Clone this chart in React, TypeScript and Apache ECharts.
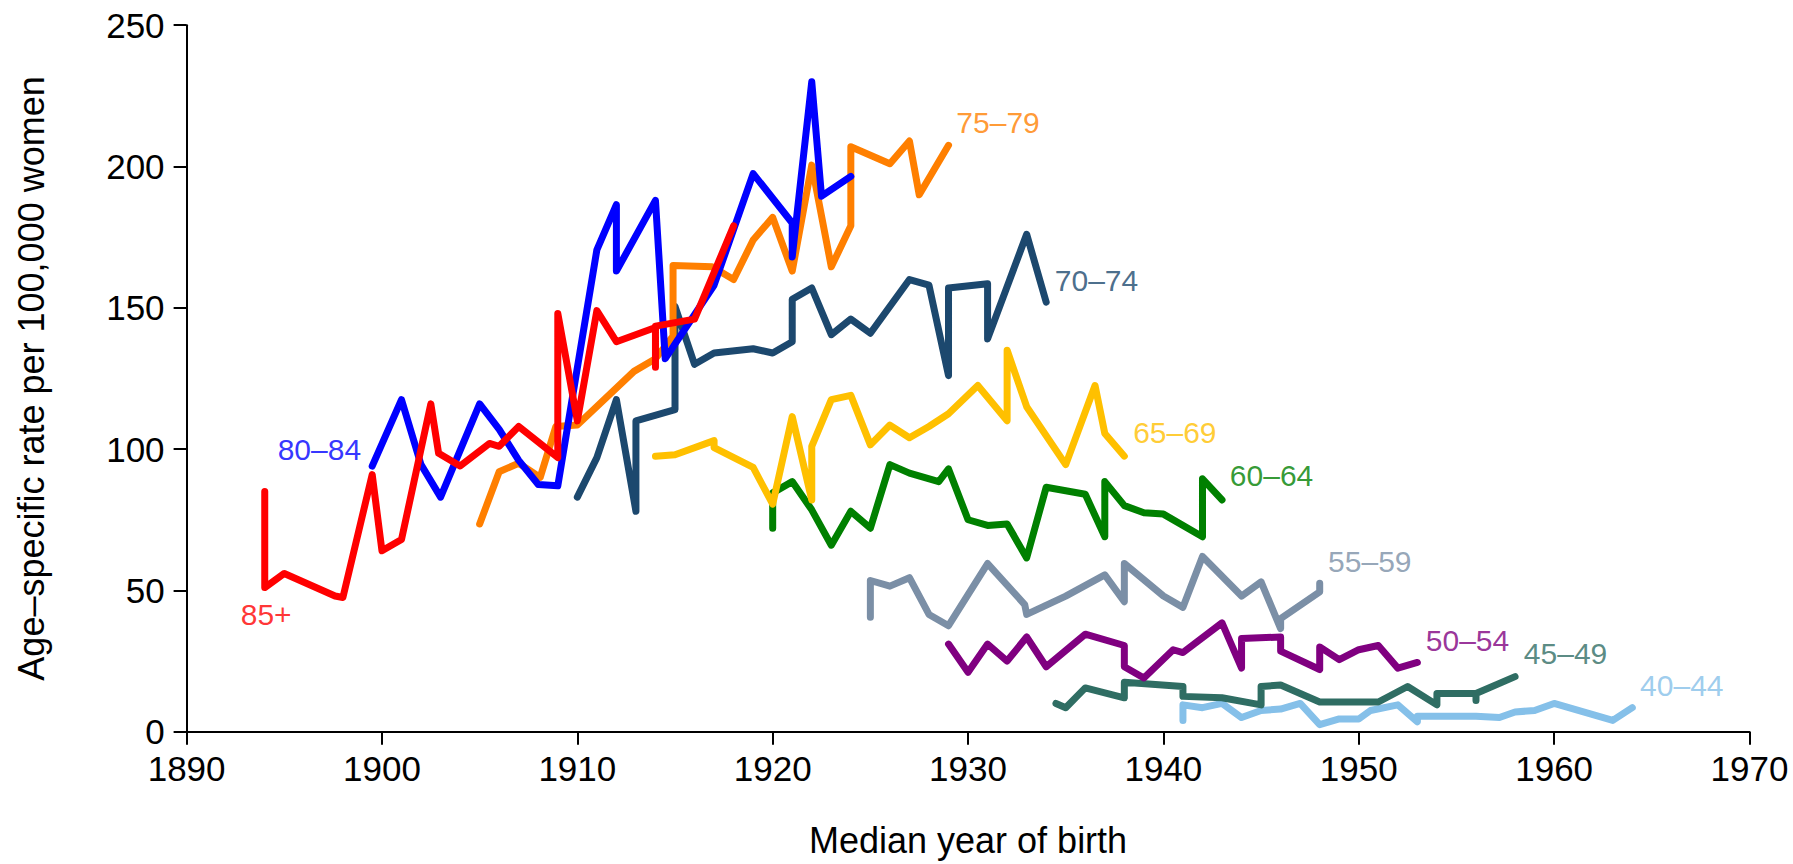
import React, { useEffect, useRef } from "react";
import * as echarts from "echarts";

// ---- Data: [median year of birth, age-specific rate per 100,000 women] ----
const age85plus: [number, number][] = [
  [1894, 85], [1894, 51], [1895, 56], [1897.6, 48], [1898, 47.5], [1899.5, 91], [1900, 64],
  [1901, 68], [1902.5, 116], [1902.9, 98.5], [1904, 94], [1905.5, 102], [1906, 101], [1907, 108],
  [1909, 97], [1909, 148], [1910, 110], [1911, 149], [1912, 138], [1914, 143], [1914, 129],
  [1914, 143.5], [1916, 146], [1918, 179],
];
const age80to84: [number, number][] = [
  [1899.5, 94], [1901, 117.5], [1902, 94.5], [1903, 83], [1905, 116], [1906, 107], [1907, 96],
  [1908, 87.5], [1909, 87], [1911, 170.5], [1912, 186.5], [1912, 163], [1914, 188], [1914.5, 132],
  [1917, 158], [1919, 197.5], [1921, 180], [1921, 168], [1922, 230], [1922.5, 189.5], [1924, 196.5],
];
const age75to79: [number, number][] = [
  [1905, 73.5], [1906, 92], [1907, 95], [1908.1, 90], [1908.9, 108], [1910, 108.5], [1912.9, 127.5],
  [1914, 132], [1914.9, 140], [1914.9, 165], [1916.9, 164.5], [1918, 160], [1919, 174], [1920, 182],
  [1921, 163], [1922, 200.5], [1923, 164.5], [1924, 179], [1924, 207], [1926, 201], [1927, 209],
  [1927.5, 190], [1929, 207.5],
];
const age70to74: [number, number][] = [
  [1910, 83], [1911, 97], [1912, 117.5], [1913, 78], [1913, 110], [1915, 114], [1915, 150.5],
  [1916, 130], [1917, 134], [1919, 135.5], [1920, 134], [1921, 138], [1921, 153], [1922, 157],
  [1923, 140.5], [1924, 146], [1925, 141], [1927, 160], [1928, 158], [1929, 126], [1929, 157],
  [1931, 158.5], [1931, 139], [1933, 176], [1934, 152],
];
const age65to69: [number, number][] = [
  [1914, 97.5], [1915, 98], [1917, 103], [1917, 100.5], [1919, 93.5], [1920, 80.5], [1921, 111.5],
  [1922, 82], [1922, 101], [1923, 117.5], [1924, 119], [1925, 101.5], [1926, 108.5], [1927, 104],
  [1928, 108], [1929, 112.5], [1930.5, 122.5], [1932, 110], [1932, 135], [1933, 115], [1935, 94.5],
  [1936.5, 122.5], [1937, 105.5], [1938, 97.5],
];
const age60to64: [number, number][] = [
  [1920, 72], [1920, 84.5], [1921, 88.5], [1922, 78.5], [1923, 66], [1924, 78], [1925, 72],
  [1926, 94.5], [1927, 91.5], [1928.5, 88.5], [1929, 93], [1930, 75], [1931, 73], [1932, 73.5],
  [1933, 61.5], [1934, 86.5], [1936, 84], [1937, 69], [1937, 88.5], [1938, 80], [1939, 77.5],
  [1940, 77], [1942, 69], [1942, 89.5], [1943, 82],
];
const age55to59: [number, number][] = [
  [1925, 40.5], [1925, 53.5], [1926, 51.5], [1927, 54.5], [1928, 41.5], [1929, 37.5], [1931, 59.5],
  [1932.9, 45], [1933, 41.5], [1935, 48], [1937, 55.5], [1938, 46], [1938, 59.5], [1940, 48],
  [1941, 44], [1942, 62], [1944, 48], [1945, 53], [1946, 36.5], [1946, 40], [1948, 49.5], [1948, 52.5],
];
const age50to54: [number, number][] = [
  [1929, 31], [1930, 21], [1931, 31], [1932, 25], [1933, 33.5], [1934, 23], [1936, 34.5],
  [1938, 30.5], [1938, 23], [1939, 19], [1940.5, 29], [1941, 28], [1943, 38.5], [1944, 22.5],
  [1944, 33], [1946, 33.5], [1946, 28.5], [1948, 22], [1948, 30], [1949, 25.5], [1950, 29],
  [1951, 30.5], [1952, 22.5], [1953, 24.5],
];
const age45to49: [number, number][] = [
  [1934.5, 10], [1935, 8.5], [1936, 15.5], [1938, 12], [1938, 17.5], [1941, 16], [1941, 12.5],
  [1943, 12], [1945, 9.5], [1945, 16], [1946, 16.5], [1948, 10.5], [1951, 10.5], [1952.5, 16],
  [1954, 9.5], [1954, 13.5], [1956, 13.5], [1956, 11], [1956, 13.5], [1958, 19.5],
];
const age40to44: [number, number][] = [
  [1941, 4], [1941, 9.5], [1942, 8.5], [1943, 10], [1944, 5], [1945, 7.5], [1946, 8], [1947, 10],
  [1948, 2.5], [1949, 4.5], [1950, 4.5], [1950.6, 7.5], [1952, 9.5], [1953, 3.5], [1953, 5.5],
  [1956, 5.5], [1957.2, 5], [1958, 7], [1959, 7.5], [1960, 10], [1963, 4], [1964, 8.5],
];

// Age-group names, colours and where their label sits (data coordinates)
const groupNames = ["40–44", "45–49", "50–54", "55–59", "60–64", "65–69", "70–74", "75–79", "80–84", "85+"];
const groupData = [age40to44, age45to49, age50to54, age55to59, age60to64, age65to69, age70to74, age75to79, age80to84, age85plus];
const groupColors = ["#85C0E9", "#2F6D63", "#800080", "#7B8FA6", "#008000", "#FFC000", "#1C486E", "#FF7F00", "#0000FF", "#FF0000"];
const labelAnchors: [number, number][] = [
  [1964.4, 16.2], [1958.45, 27.5], [1953.43, 32.4], [1948.43, 60.2], [1943.4, 90.5],
  [1938.45, 105.9], [1934.44, 159.8], [1929.4, 215.4], [1894.66, 100], [1892.77, 41.3],
];

const xTicks = { min: 1890, max: 1970, interval: 10 };
const yTicks = { min: 0, max: 250, interval: 50 };

const FONT = "'Liberation Sans', Arial, Helvetica, sans-serif";

export default function App() {
  const ref = useRef<HTMLDivElement>(null);

  useEffect(() => {
    if (!ref.current) return;
    const chart = echarts.init(ref.current, undefined, { renderer: "svg" });

    const lineSeries = groupNames.map((name, i) => ({
      name,
      type: "line",
      data: groupData[i],
      showSymbol: false,
      symbol: "none",
      z: 2 + i,
      lineStyle: { color: groupColors[i], width: 7, cap: "round", join: "round" },
      itemStyle: { color: groupColors[i] },
    }));

    const labelSeries = {
      type: "scatter",
      symbolSize: 0,
      z: 20,
      silent: true,
      data: groupNames.map((name, i) => ({
        value: labelAnchors[i],
        name,
        label: {
          show: true,
          formatter: name,
          position: [0, 0],
          align: "left",
          verticalAlign: "middle",
          color: groupColors[i],
          fontSize: 30,
          fontFamily: FONT,
        },
      })),
    };

    const axisCommon = {
      axisLine: { show: true, lineStyle: { color: "#000", width: 2 } },
      axisTick: { show: true, inside: false, length: 13, lineStyle: { color: "#000", width: 2 } },
      splitLine: { show: false },
      nameTextStyle: { color: "#000", fontSize: 36, fontFamily: FONT },
    };

    chart.setOption({
      animation: false,
      backgroundColor: "#ffffff",
      textStyle: { fontFamily: FONT },
      grid: {
        left: 186.6, right: 43.5, top: 25.2, bottom: 132.3,
        containLabel: false, outerBoundsMode: "none",
      },
      xAxis: {
        type: "value",
        ...xTicks,
        ...axisCommon,
        axisLine: { ...axisCommon.axisLine, onZero: false },
        axisLabel: {
          color: "#000", fontSize: 35, margin: 19, fontFamily: FONT,
          showMinLabel: true, showMaxLabel: true,
          formatter: (v: number) => String(v),
        },
        name: "Median year of birth",
        nameLocation: "middle",
        nameGap: 91,
      },
      yAxis: {
        type: "value",
        ...yTicks,
        ...axisCommon,
        axisLabel: {
          color: "#000", fontSize: 35, margin: 22, fontFamily: FONT,
          showMinLabel: true, showMaxLabel: true,
          formatter: (v: number) => String(v),
        },
        name: "Age–specific rate per 100,000 women",
        nameLocation: "middle",
        nameGap: 137,
      },
      series: [...lineSeries, labelSeries],
    });

    return () => chart.dispose();
  }, []);

  return (
    <div
      ref={ref}
      style={{ position: "absolute", left: 0, top: 0, width: 1793, height: 864, background: "#fff" }}
    />
  );
}
